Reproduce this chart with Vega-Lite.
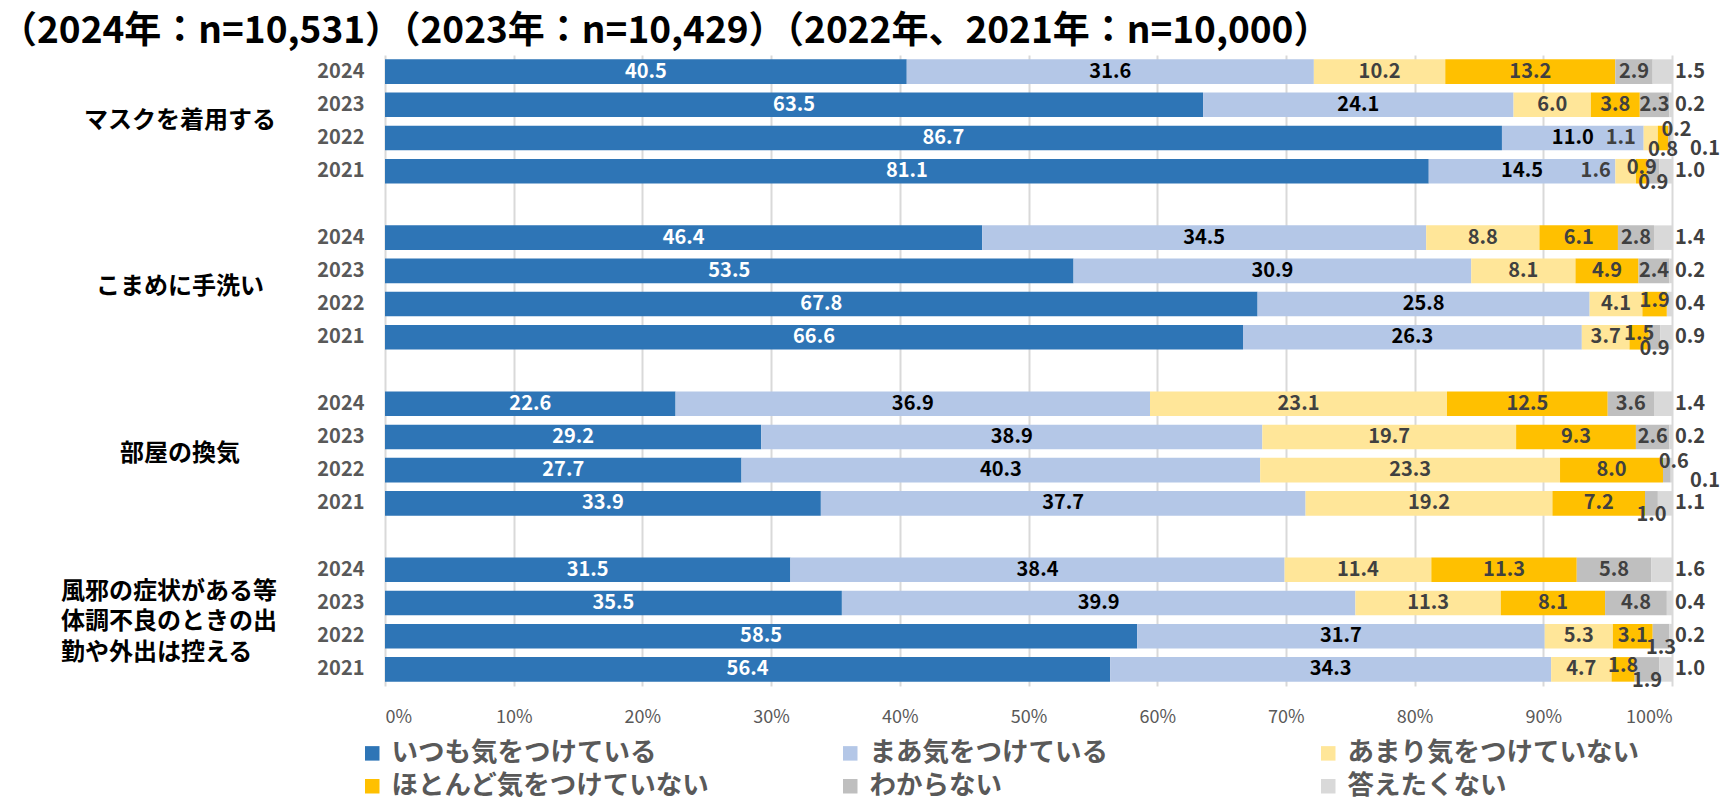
{
  "$schema": "https://vega.github.io/schema/vega-lite/v6.json",
  "width": 1287,
  "height": 631,
  "autosize": {"type": "none"},
  "padding": {"left": 385, "top": 55, "right": 56, "bottom": 117},
  "background": "white",
  "title": {
    "text": "（2024年：n=10,531）（2023年：n=10,429）（2022年、2021年：n=10,000）",
    "anchor": "start", "frame": "group", "dx": -385, "offset": 4,
    "fontSize": 37, "font": "Noto Sans CJK JP", "fontWeight": "bold", "color": "#000000"
  },
  "config": {"view": {"stroke": null}, "font": "Noto Sans CJK JP"},
  "data": {"values": [
    {"k": "a2024", "c": "マスクを着用する", "いつも気をつけている": 40.5, "まあ気をつけている": 31.6, "あまり気をつけていない": 10.2, "ほとんど気をつけていない": 13.2, "わからない": 2.9, "答えたくない": 1.5},
    {"k": "a2023", "c": "マスクを着用する", "いつも気をつけている": 63.5, "まあ気をつけている": 24.1, "あまり気をつけていない": 6.0, "ほとんど気をつけていない": 3.8, "わからない": 2.3, "答えたくない": 0.2},
    {"k": "a2022", "c": "マスクを着用する", "いつも気をつけている": 86.7, "まあ気をつけている": 11.0, "あまり気をつけていない": 1.1, "ほとんど気をつけていない": 0.8, "わからない": 0.2, "答えたくない": 0.1},
    {"k": "a2021", "c": "マスクを着用する", "いつも気をつけている": 81.1, "まあ気をつけている": 14.5, "あまり気をつけていない": 1.6, "ほとんど気をつけていない": 0.9, "わからない": 0.9, "答えたくない": 1.0},
    {"k": "b2024", "c": "こまめに手洗い", "いつも気をつけている": 46.4, "まあ気をつけている": 34.5, "あまり気をつけていない": 8.8, "ほとんど気をつけていない": 6.1, "わからない": 2.8, "答えたくない": 1.4},
    {"k": "b2023", "c": "こまめに手洗い", "いつも気をつけている": 53.5, "まあ気をつけている": 30.9, "あまり気をつけていない": 8.1, "ほとんど気をつけていない": 4.9, "わからない": 2.4, "答えたくない": 0.2},
    {"k": "b2022", "c": "こまめに手洗い", "いつも気をつけている": 67.8, "まあ気をつけている": 25.8, "あまり気をつけていない": 4.1, "ほとんど気をつけていない": 1.9, "答えたくない": 0.4},
    {"k": "b2021", "c": "こまめに手洗い", "いつも気をつけている": 66.6, "まあ気をつけている": 26.3, "あまり気をつけていない": 3.7, "ほとんど気をつけていない": 1.5, "わからない": 0.9, "答えたくない": 0.9},
    {"k": "c2024", "c": "部屋の換気", "いつも気をつけている": 22.6, "まあ気をつけている": 36.9, "あまり気をつけていない": 23.1, "ほとんど気をつけていない": 12.5, "わからない": 3.6, "答えたくない": 1.4},
    {"k": "c2023", "c": "部屋の換気", "いつも気をつけている": 29.2, "まあ気をつけている": 38.9, "あまり気をつけていない": 19.7, "ほとんど気をつけていない": 9.3, "わからない": 2.6, "答えたくない": 0.2},
    {"k": "c2022", "c": "部屋の換気", "いつも気をつけている": 27.7, "まあ気をつけている": 40.3, "あまり気をつけていない": 23.3, "ほとんど気をつけていない": 8.0, "わからない": 0.6, "答えたくない": 0.1},
    {"k": "c2021", "c": "部屋の換気", "いつも気をつけている": 33.9, "まあ気をつけている": 37.7, "あまり気をつけていない": 19.2, "ほとんど気をつけていない": 7.2, "わからない": 1.0, "答えたくない": 1.1},
    {"k": "d2024", "c": "風邪の症状がある等\n体調不良のときの出\n勤や外出は控える", "いつも気をつけている": 31.5, "まあ気をつけている": 38.4, "あまり気をつけていない": 11.4, "ほとんど気をつけていない": 11.3, "わからない": 5.8, "答えたくない": 1.6},
    {"k": "d2023", "c": "風邪の症状がある等\n体調不良のときの出\n勤や外出は控える", "いつも気をつけている": 35.5, "まあ気をつけている": 39.9, "あまり気をつけていない": 11.3, "ほとんど気をつけていない": 8.1, "わからない": 4.8, "答えたくない": 0.4},
    {"k": "d2022", "c": "風邪の症状がある等\n体調不良のときの出\n勤や外出は控える", "いつも気をつけている": 58.5, "まあ気をつけている": 31.7, "あまり気をつけていない": 5.3, "ほとんど気をつけていない": 3.1, "わからない": 1.3, "答えたくない": 0.2},
    {"k": "d2021", "c": "風邪の症状がある等\n体調不良のときの出\n勤や外出は控える", "いつも気をつけている": 56.4, "まあ気をつけている": 34.3, "あまり気をつけていない": 4.7, "ほとんど気をつけていない": 1.8, "わからない": 1.9, "答えたくない": 1.0}
  ]},
  "transform": [
    {"fold": ["いつも気をつけている", "まあ気をつけている", "あまり気をつけていない", "ほとんど気をつけていない", "わからない", "答えたくない"], "as": ["r", "v"]},
    {"filter": "isValid(datum.v)"},
    {"calculate": "indexof(['いつも気をつけている','まあ気をつけている','あまり気をつけていない','ほとんど気をつけていない','わからない','答えたくない'], datum.r)", "as": "o"},
    {"stack": "v", "groupby": ["k"], "sort": [{"field": "o", "order": "ascending"}], "as": ["v0", "v1"], "offset": "normalize"},
    {"calculate": "(datum.v0 + datum.v1) / 2", "as": "mid"}
  ],
  "encoding": {
    "y": {
      "field": "k", "type": "nominal",
      "scale": {
        "domain": ["a2024", "a2023", "a2022", "a2021", "s1", "b2024", "b2023", "b2022", "b2021", "s2", "c2024", "c2023", "c2022", "c2021", "s3", "d2024", "d2023", "d2022", "d2021"],
        "paddingInner": 0.26, "paddingOuter": 0.13
      },
      "axis": {
        "title": null, "ticks": false, "domain": false,
        "labelExpr": "indexof(datum.value, 's') == 0 ? '' : slice(datum.value, 1)",
        "labelFontSize": 20, "labelFontWeight": "bold", "labelColor": "#595959",
        "labelPadding": 21, "labelFont": "Noto Sans CJK JP"
      }
    }
  },
  "layer": [
    {
      "mark": {"type": "bar"},
      "encoding": {
        "x": {
          "field": "v0", "type": "quantitative",
          "scale": {"domain": [0, 1]},
          "axis": {
            "title": null, "format": ".0%", "values": [0, 0.1, 0.2, 0.3, 0.4, 0.5, 0.6, 0.7, 0.8, 0.9, 1],
            "grid": true, "gridColor": "#D9D9D9", "gridWidth": 2, "domain": false, "ticks": false,
            "labelFontSize": 18, "labelColor": "#595959", "labelPadding": 22, "labelFont": "Noto Sans CJK JP"
          }
        },
        "x2": {"field": "v1"},
        "color": {
          "field": "r", "type": "nominal",
          "scale": {
            "domain": ["いつも気をつけている", "まあ気をつけている", "あまり気をつけていない", "ほとんど気をつけていない", "わからない", "答えたくない"],
            "range": ["#2E75B6", "#B4C7E7", "#FFE699", "#FFC000", "#BFBFBF", "#D9D9D9"]
          },
          "legend": {
            "title": null, "orient": "none", "legendX": -26, "legendY": 685,
            "direction": "horizontal", "columns": 3, "symbolType": "square", "symbolSize": 210,
            "symbolStrokeWidth": 0, "labelFontSize": 26.5, "labelFontWeight": "bold", "labelColor": "#595959",
            "labelFont": "Noto Sans CJK JP", "columnPadding": 127, "rowPadding": 6, "labelLimit": 600,
            "labelOffset": 6, "padding": 0, "gridAlign": "all"
          }
        }
      }
    },
    {
      "transform": [{"filter": "datum.r != '答えたくない' && !(datum.o >= 2 && datum.v < 2)"}],
      "mark": {"type": "text", "fontSize": 20, "fontWeight": "bold", "font": "Noto Sans CJK JP"},
      "encoding": {
        "x": {"field": "mid", "type": "quantitative"},
        "text": {"field": "v", "type": "quantitative", "format": ".1f"},
        "color": {
          "condition": [
            {"test": "datum.r == 'いつも気をつけている'", "value": "#FFFFFF"},
            {"test": "datum.r == 'まあ気をつけている'", "value": "#000000"}
          ],
          "value": "#404040"
        }
      }
    },
    {
      "transform": [{"filter": "datum.o == 2 && datum.v < 2"}],
      "mark": {"type": "text", "fontSize": 20, "fontWeight": "bold", "font": "Noto Sans CJK JP", "dx": -30, "color": "#404040"},
      "encoding": {
        "x": {"field": "mid", "type": "quantitative"},
        "text": {"field": "v", "type": "quantitative", "format": ".1f"}
      }
    },
    {
      "transform": [{"filter": "datum.o == 3 && datum.v < 2 && datum.v >= 0.85"}],
      "mark": {"type": "text", "fontSize": 20, "fontWeight": "bold", "font": "Noto Sans CJK JP", "dy": -3, "color": "#404040"},
      "encoding": {
        "x": {"field": "mid", "type": "quantitative"},
        "text": {"field": "v", "type": "quantitative", "format": ".1f"}
      }
    },
    {
      "transform": [{"filter": "(datum.o == 3 && datum.v < 0.85) || (datum.o == 4 && datum.v < 2 && datum.v >= 0.7)"}],
      "mark": {"type": "text", "fontSize": 20, "fontWeight": "bold", "font": "Noto Sans CJK JP", "dy": 12, "color": "#404040"},
      "encoding": {
        "x": {"field": "mid", "type": "quantitative"},
        "text": {"field": "v", "type": "quantitative", "format": ".1f"}
      }
    },
    {
      "transform": [{"filter": "datum.o == 4 && datum.v < 0.7"}],
      "mark": {"type": "text", "fontSize": 20, "fontWeight": "bold", "font": "Noto Sans CJK JP", "dx": 7, "dy": -8, "color": "#404040"},
      "encoding": {
        "x": {"field": "mid", "type": "quantitative"},
        "text": {"field": "v", "type": "quantitative", "format": ".1f"}
      }
    },
    {
      "transform": [{"filter": "datum.r == '答えたくない' && datum.v > 0.15"}],
      "mark": {"type": "text", "fontSize": 20, "fontWeight": "bold", "font": "Noto Sans CJK JP", "align": "left", "dx": 3, "color": "#404040"},
      "encoding": {
        "x": {"field": "v1", "type": "quantitative"},
        "text": {"field": "v", "type": "quantitative", "format": ".1f"}
      }
    },
    {
      "transform": [{"filter": "datum.r == '答えたくない' && datum.v <= 0.15"}],
      "mark": {"type": "text", "fontSize": 20, "fontWeight": "bold", "font": "Noto Sans CJK JP", "align": "left", "dx": 18, "dy": 11, "color": "#404040"},
      "encoding": {
        "x": {"field": "v1", "type": "quantitative"},
        "text": {"field": "v", "type": "quantitative", "format": ".1f"}
      }
    },
    {
      "transform": [{"filter": "datum.o == 0 && slice(datum.k, 1) == '2023' && slice(datum.k, 0, 1) != 'd'"}],
      "mark": {"type": "text", "fontSize": 24, "fontWeight": "bold", "font": "Noto Sans CJK JP", "align": "center", "dx": -205, "dy": 16.6, "color": "#000000"},
      "encoding": {
        "x": {"datum": 0, "type": "quantitative"},
        "text": {"field": "c", "type": "nominal"}
      }
    },
    {
      "transform": [{"filter": "datum.o == 0 && datum.k == 'd2023'"}],
      "mark": {"type": "text", "fontSize": 24, "fontWeight": "bold", "font": "Noto Sans CJK JP", "align": "left", "dx": -324, "dy": -11, "lineBreak": "\n", "lineHeight": 30.5, "color": "#000000"},
      "encoding": {
        "x": {"datum": 0, "type": "quantitative"},
        "text": {"field": "c", "type": "nominal"}
      }
    }
  ]
}
